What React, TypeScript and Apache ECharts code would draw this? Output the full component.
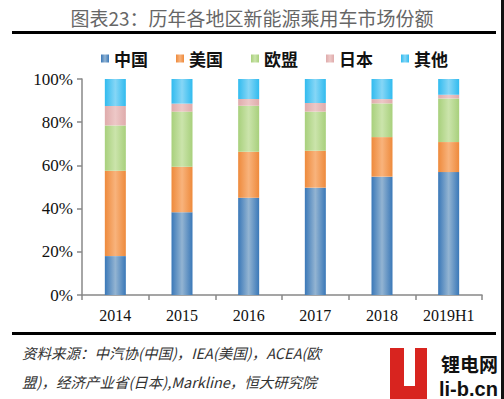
import React, { useEffect, useRef } from "react";
import * as echarts from "echarts";

const categories = ["2014", "2015", "2016", "2017", "2018", "2019H1"];
const seriesNames = ["中国", "美国", "欧盟", "日本", "其他"];
const china = [18.0, 38.3, 45.0, 49.7, 54.8, 56.9];
const usa = [39.5, 21.1, 21.3, 17.1, 18.3, 13.9];
const eu = [21.0, 25.5, 21.3, 18.1, 15.6, 20.2];
const japan = [9.0, 3.7, 3.1, 4.0, 2.0, 1.7];
const others = [12.5, 11.4, 9.3, 11.1, 9.3, 7.3];
const yTicks = [0, 20, 40, 60, 80, 100];

const titleText = "图表23：历年各地区新能源乘用车市场份额";
const noteLine1 = "资料来源：中汽协(中国)，IEA(美国)，ACEA(欧";
const noteLine2 = "盟)，经济产业省(日本),Markline，恒大研究院";

const palette = [
  ["#3a78b8", "#93b4d2"],
  ["#ee8a3c", "#f8b37c"],
  ["#a8d07c", "#cbe4ab"],
  ["#dfabab", "#edc8c7"],
  ["#30bbef", "#86d6f6"],
];

function grad(edge: string, center: string) {
  return new echarts.graphic.LinearGradient(0, 0, 1, 0, [
    { offset: 0, color: edge },
    { offset: 0.5, color: center },
    { offset: 1, color: edge },
  ]);
}

export default function App() {
  const ref = useRef<HTMLDivElement>(null);
  useEffect(() => {
    if (!ref.current) return;
    const chart = echarts.init(ref.current, undefined, { renderer: "svg" });
    const values = [china, usa, eu, japan, others];
    const cjk = "'Noto Sans CJK SC', sans-serif";
    const serif = "'Liberation Serif', 'DejaVu Serif', serif";
    chart.setOption({
      animation: false,
      backgroundColor: "#ffffff",
      title: {
        text: titleText,
        left: "center",
        top: 3,
        textStyle: { fontSize: 19, fontWeight: "normal", color: "#666", fontFamily: cjk },
      },
      legend: {
        data: seriesNames,
        left: 96,
        top: 45,
        itemWidth: 8,
        itemHeight: 8,
        itemGap: 28,
        icon: "rect",
        textStyle: { fontSize: 17, fontWeight: "bold", color: "#111", fontFamily: cjk },
      },
      grid: { left: 82, right: 22, top: 79, bottom: 104, containLabel: false },
      xAxis: {
        type: "category",
        data: categories,
        axisLine: { lineStyle: { color: "#888", width: 1.5 } },
        axisTick: { show: true, length: 5, lineStyle: { color: "#888", width: 1.5 } },
        axisLabel: { interval: 0, fontSize: 16, color: "#111", fontFamily: serif, margin: 12 },
      },
      yAxis: {
        type: "value",
        min: yTicks[0],
        max: yTicks[yTicks.length - 1],
        interval: 20,
        axisLine: { show: true, lineStyle: { color: "#888", width: 1.5 } },
        axisTick: { show: true, length: 5, lineStyle: { color: "#888", width: 1.5 } },
        splitLine: { show: false },
        axisLabel: { formatter: "{value}%", fontSize: 17, color: "#111", fontFamily: serif, margin: 9 },
      },
      series: seriesNames.map((name, i) => ({
        name,
        type: "bar",
        stack: "total",
        barWidth: 21,
        data: values[i],
        itemStyle: { color: grad(palette[i][0], palette[i][1]) },
      })),
      graphic: [
        { type: "rect", shape: { x: 12, y: 31, width: 484, height: 3 }, style: { fill: "#000" } },
        { type: "rect", shape: { x: 12, y: 332, width: 484, height: 3 }, style: { fill: "#000" } },
        {
          type: "text",
          x: 22,
          y: 352,
          style: {
            text: noteLine1,
            fontSize: 14.5,
            fontStyle: "italic",
            fill: "#333",
            fontFamily: cjk,
            textVerticalAlign: "middle",
          },
        },
        {
          type: "text",
          x: 22,
          y: 381,
          style: {
            text: noteLine2,
            fontSize: 14.5,
            fontStyle: "italic",
            fill: "#333",
            fontFamily: cjk,
            textVerticalAlign: "middle",
          },
        },
        { type: "rect", shape: { x: 428, y: 346, width: 73, height: 53 }, style: { fill: "#fff", opacity: 0.85 } },
        { type: "rect", shape: { x: 390, y: 348, width: 37, height: 51 }, style: { fill: "#d8241f" } },
        { type: "rect", shape: { x: 404, y: 348, width: 11, height: 38 }, style: { fill: "#fff" } },
        {
          type: "text",
          x: 441,
          y: 363,
          style: {
            text: "锂电网",
            fontSize: 19,
            fontWeight: "bold",
            fill: "#111",
            fontFamily: cjk,
            textVerticalAlign: "middle",
          },
        },
        {
          type: "text",
          x: 439,
          y: 389,
          style: {
            text: "li-b.cn",
            fontSize: 20,
            fontWeight: "bold",
            fill: "#111",
            fontFamily: "'Liberation Sans', Arial, sans-serif",
            textVerticalAlign: "middle",
          },
        },
        { type: "rect", shape: { x: 501, y: 0, width: 3, height: 399 }, style: { fill: "#111" } },
      ],
    });
    return () => chart.dispose();
  }, []);
  return (
    <div
      ref={ref}
      style={{ position: "fixed", left: 0, top: 0, width: 504, height: 399, background: "#fff" }}
    />
  );
}
